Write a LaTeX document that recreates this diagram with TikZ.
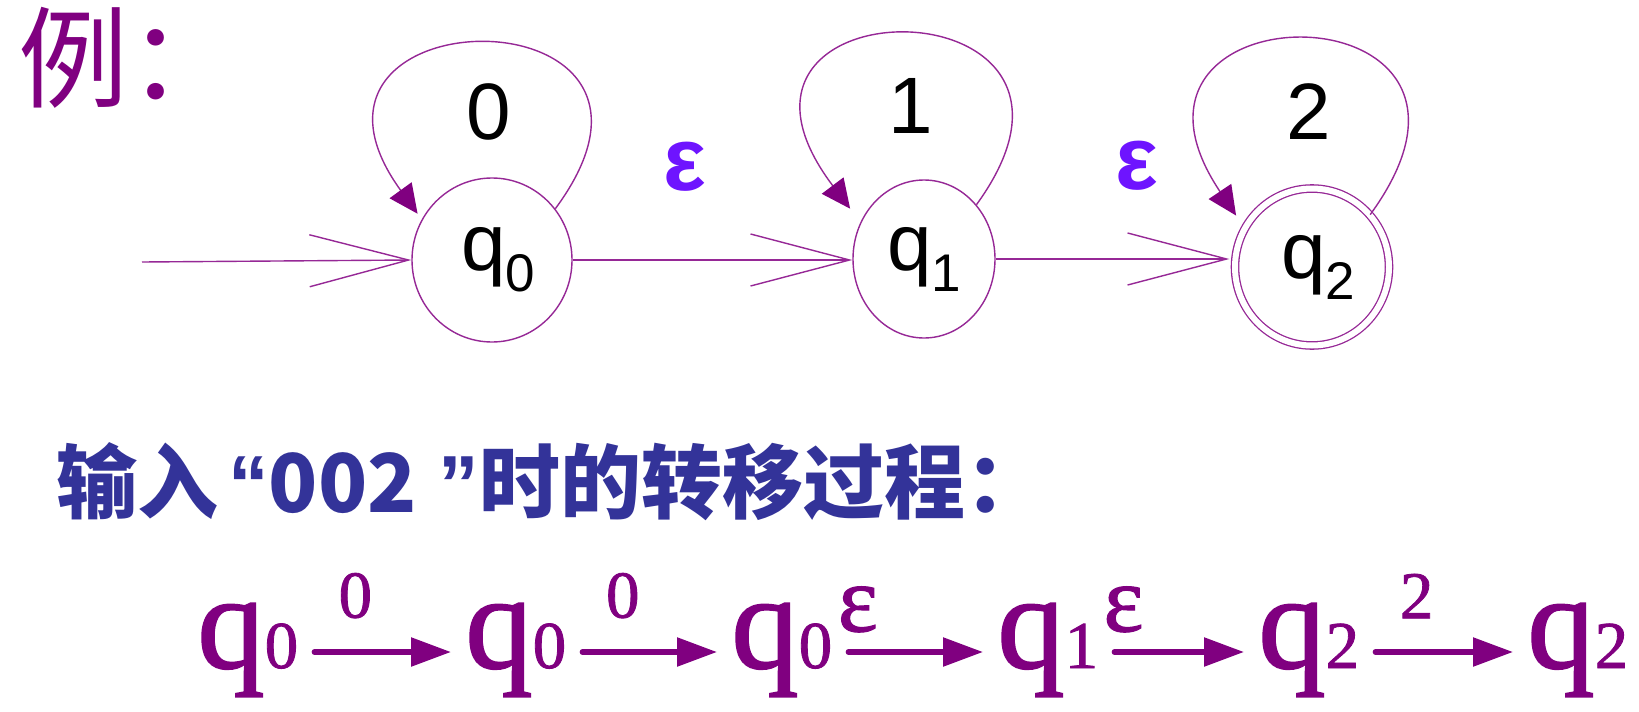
\documentclass[tikz,border=0pt]{standalone}
\usepackage{fontspec}
\setmainfont{Liberation Sans}
\newfontfamily\cjk{Noto Sans CJK SC}
\newfontfamily\serifq{Liberation Serif}[FakeBold=1.2]
\newfontfamily\latinb{Liberation Sans}
\usetikzlibrary{arrows.meta,shapes.geometric}
\definecolor{linepurple}{RGB}{150,40,150}
\definecolor{headpurple}{RGB}{128,0,128}
\definecolor{epsblue}{RGB}{110,20,255}
\definecolor{headblue}{RGB}{51,51,153}
\definecolor{textpurple}{RGB}{128,0,128}
\newcommand{\qsub}[1]{\raisebox{-21pt}{\fontsize{53}{53}\selectfont #1}}
\newcommand{\qsmall}[1]{{\fontsize{67}{67}\selectfont #1}}
\tikzset{
  state/.style={ellipse, draw=linepurple, line width=1.4pt, inner sep=0pt,
    font=\fontsize{80}{80}\selectfont, text=black},
  accstate/.style={state, double=white, double distance=6pt, line width=1.3pt},
  trans/.style={draw=linepurple, line width=1.4pt, -{Straight Barb[length=99pt,width=52pt]}},
  loopedge/.style={draw=linepurple, line width=1.4pt, -{Triangle[length=29pt,width=27pt,color=headpurple]}},
  looplabel/.style={inner sep=0pt, font=\fontsize{80}{80}\selectfont, text=black},
  epslabel/.style={inner sep=0pt, font=\bfseries\fontsize{90}{90}\selectfont, text=epsblue},
  seqstate/.style={inner sep=0pt, anchor=base west, font=\serifq\fontsize{135}{135}\selectfont, text=textpurple},
  seqarrow/.style={draw=textpurple, line width=5.5pt, line cap=round, -{Triangle[length=40pt,width=28pt]}},
  seqlabel/.style={inner sep=0pt, font=\serifq\fontsize{67}{67}\selectfont, text=textpurple},
  seqeps/.style={inner sep=0pt, font=\serifq\fontsize{95}{95}\selectfont, text=textpurple},
}
\begin{document}
\begin{tikzpicture}[x=1pt,y=-1pt]
\fill[white] (0,0) rectangle (1639,712);
\useasboundingbox (0,0) rectangle (1639,712);

% title
\node[anchor=base west, inner sep=0pt, font=\cjk\fontsize{110}{110}\selectfont, text=textpurple] (title) at (18,99) {例：};

% automaton
\node[state, minimum width=160pt, minimum height=164pt] (q0) at (492,260) {\hspace{12pt}q\qsub{0}};
\node[state, minimum width=142pt, minimum height=158pt] (q1) at (924,259) {q\qsub{1}};
\node[accstate, minimum width=154pt, minimum height=157pt] (q2) at (1312,267) {\hspace{12pt}q\qsub{2}};

\coordinate (init) at (142,262);
\draw[trans] (init) -- (q0.west);
\draw[trans] (q0.east) -- (q0.east -| q1.west) node[epslabel, pos=0.4, yshift=93pt] {ε};
\draw[trans, shorten >=5pt] (q1.east) -- (q1.east -| q2.west) node[epslabel, pos=0.59, yshift=93pt] {ε};

\draw[loopedge, shorten >=7pt] (q0.39) .. controls +(165,-223) and +(-165,-228) .. (q0.150)
  node[looplabel, pos=0.5, yshift=-67pt] {0};
\draw[loopedge, shorten >=17pt] (q1.46) .. controls +(165,-227) and +(-185,-245) .. (q1.150)
  node[looplabel, pos=0.5, yshift=-70pt] {1};
\draw[loopedge, shorten >=15pt] (q2.42) .. controls +(170,-233) and +(-165,-246) .. (q2.150)
  node[looplabel, pos=0.5, yshift=-70pt] {2};

% heading
\node[anchor=base west, inner sep=0pt, font=\cjk\bfseries\fontsize{81}{81}\selectfont, text=headblue] (heading) at (56,512)
  {输入\hspace{10pt}{\latinb\bfseries “}002\hspace{22pt}{\latinb\bfseries ”}时的转移过程：};

% sequence
\node[seqstate] (s0) at (197,668) {q\qsmall{0}};
\node[seqstate] (s1) at (465,668) {q\qsmall{0}};
\node[seqstate] (s2) at (731,668) {q\qsmall{0}};
\node[seqstate] (s3) at (997,668) {q\qsmall{1}};
\node[seqstate] (s4) at (1258,668) {q\qsmall{2}};
\node[seqstate] (s5) at (1527,668) {q\qsmall{2}};

\draw[seqarrow] ([xshift=16pt,yshift=16pt]s0.base east) -- ([xshift=-14pt,yshift=16pt]s1.base west)
  node[seqlabel, pos=0.3, above=31pt] {0};
\draw[seqarrow] ([xshift=16pt,yshift=16pt]s1.base east) -- ([xshift=-14pt,yshift=16pt]s2.base west)
  node[seqlabel, pos=0.3, above=31pt] {0};
\draw[seqarrow] ([xshift=16pt,yshift=16pt]s2.base east) -- ([xshift=-14pt,yshift=16pt]s3.base west)
  node[seqeps, pos=0.07, above=17pt] {ε};
\draw[seqarrow] ([xshift=16pt,yshift=16pt]s3.base east) -- ([xshift=-14pt,yshift=16pt]s4.base west)
  node[seqeps, pos=0.07, above=17pt] {ε};
\draw[seqarrow] ([xshift=16pt,yshift=16pt]s4.base east) -- ([xshift=-14pt,yshift=16pt]s5.base west)
  node[seqlabel, pos=0.3, above=31pt] {2};
\end{tikzpicture}
\end{document}
